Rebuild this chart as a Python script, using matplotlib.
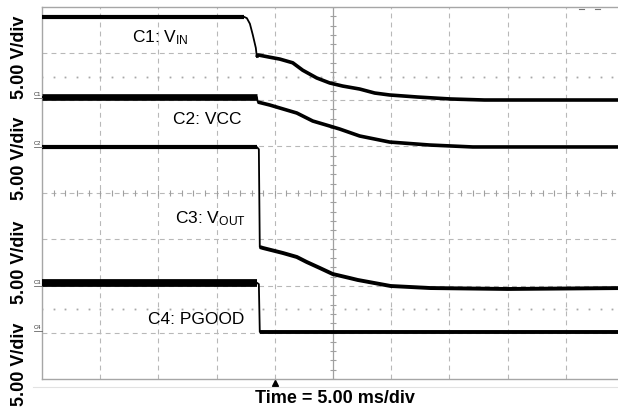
import numpy as np
import matplotlib
matplotlib.use("Agg")
import matplotlib.pyplot as plt
import matplotlib.transforms as mtransforms

plt.rcParams['font.family'] = ['Liberation Sans', 'DejaVu Sans']
plt.rcParams['mathtext.fontset'] = 'custom'
plt.rcParams['mathtext.rm'] = 'Liberation Sans'
plt.rcParams['mathtext.it'] = 'Liberation Sans:italic'
plt.rcParams['mathtext.bf'] = 'Liberation Sans:bold'
plt.rcParams['lines.scale_dashes'] = False

# ---------------- data (time in ms, voltage in V relative to channel ground) ----------
vin_t = [-20.0, -2.66, -2.40, -2.14, -1.89, -1.63, -1.54, -1.46, -0.43, 0.43, 1.54, 2.40,
         3.60, 4.72, 5.83, 7.29, 8.58, 9.86, 12.26, 15.09, 18.0, 30.0]
vin_v = [8.95, 8.95, 8.8, 8.2, 7.0, 5.6, 4.6, 4.85, 4.6, 4.4, 4.0, 3.2,
         2.37, 1.83, 1.5, 1.18, 0.75, 0.54, 0.32, 0.11, 0.0, 0.0]

vcc_t = [-20.0, -1.54, -1.46, -0.43, 0.43, 1.89, 3.26, 4.72, 5.57, 7.29, 9.86, 13.3, 17.0, 30.0]
vcc_v = [5.32, 5.32, 4.78, 4.46, 4.14, 3.6, 2.74, 2.2, 1.88, 1.13, 0.48, 0.16, -0.05, -0.05]

vout_t = [-20.0, -1.54, -1.37, -1.29, -1.03, 0.69, 1.89, 2.74, 3.86, 4.97, 6.43, 7.12,
          9.95, 13.38, 20.0, 30.0]
vout_v = [14.94, 14.94, 14.7, 4.19, 4.09, 3.55, 3.12, 2.58, 1.94, 1.29, 0.86, 0.65,
          0.0, -0.22, -0.32, -0.22]

pg_t = [-20.0, -1.54, -1.37, -1.29, 30.0]
pg_v = [5.35, 5.35, 5.2, 0.05, 0.05]

channels = ["C1", "C2", "C3", "C4"]
channel_labels = ["C1: V$_\\mathrm{IN}$", "C2: VCC", "C3: V$_\\mathrm{OUT}$", "C4: PGOOD"]
volts_per_div = 5.0
time_per_div = 5.0
ylabel_text = "5.00 V/div"
xlabel_text = "Time = 5.00 ms/div"

# ---------------- layout -------------------------------------------------------------
W, H = 618, 411
fig = plt.figure(figsize=(W / 100, H / 100), dpi=100)
fig.patch.set_facecolor('white')
ax_l, ax_r, ax_t, ax_b = 42, 624, 7, 379
ax = fig.add_axes([ax_l / W, (H - ax_b) / H, (ax_r - ax_l) / W, (ax_b - ax_t) / H])
ax.set_xlim(-20, 30)
ax.set_ylim(0, 8)
ax.set_xticks([]); ax.set_yticks([])
for s in ['right']:
    ax.spines[s].set_visible(False)
for s in ['left', 'top', 'bottom']:
    ax.spines[s].set_color('#a6a6a6')
    ax.spines[s].set_linewidth(1.0)

def fx(px):
    return px / W

def fy(py):
    return 1 - py / H

gcol = '#b8b8b8'
# vertical grid
for i in range(1, 10):
    t = -20 + time_per_div * i
    if i == 5:
        ax.axvline(t, color='#a0a0a0', lw=0.9, zorder=1)
        yy = np.arange(0, 8.01, 0.2)
        ax.plot(np.full_like(yy, t), yy, ls='none', marker='_', ms=5, mew=0.8, color='#a0a0a0', zorder=1)
    else:
        ax.axvline(t, color=gcol, lw=0.8, ls=(0, (3.5, 3.0)), zorder=1)
# horizontal grid
for j in range(1, 8):
    if j == 4:
        ax.axhline(j, color=gcol, lw=0.8, ls=(0, (3.5, 3.0)), zorder=1)
        xx = np.arange(-20, 30.01, 1.0)
        ax.plot(xx, np.full_like(xx, j), ls='none', marker='|', ms=4, mew=0.8, color='#a0a0a0', zorder=1)
    else:
        ax.axhline(j, color=gcol, lw=0.8, ls=(0, (3.5, 3.0)), zorder=1)
# dotted reference rows
for yd in (6.5, 1.5):
    xx = np.arange(-20, 30.01, 1.0)
    ax.plot(xx, np.full_like(xx, yd), ls='none', marker='s', ms=1.3, mew=0, color='#a8a8a8', zorder=1)

# ---------------- traces ---------------------------------------------------------------
offsets = {"C1": 6.0, "C2": 5.0, "C3": 2.0, "C4": 1.0}
traces = [
    ("C1", vin_t, vin_v, -2.66, -1.54, 3.0, 2.6),
    ("C2", vcc_t, vcc_v, -1.54, -1.46, 4.8, 2.6),
    ("C3", vout_t, vout_v, -1.54, -1.29, 3.0, 2.8),
    ("C4", pg_t, pg_v, -1.54, -1.29, 5.6, 2.8),
]
for ch, t, v, t_pre, t_post, lw_pre, lw_post in traces:
    t = np.asarray(t); v = np.asarray(v)
    y = offsets[ch] + v / volts_per_div
    ax.plot(t, y, color='black', lw=1.3, solid_joinstyle='round', zorder=3)
    m = t <= t_pre
    ax.plot(t[m], y[m], color='black', lw=lw_pre, solid_capstyle='butt', zorder=3)
    m = t >= t_post
    ax.plot(t[m], y[m], color='black', lw=lw_post, solid_joinstyle='round',
            solid_capstyle='butt', zorder=3)

# ground markers
marker_py = {"C1": 96, "C2": 145, "C3": 284, "C4": 329}
for ch in channels:
    fig.text(fx(41), fy(marker_py[ch]), ch, fontsize=4.2, ha='right', va='baseline', color='#333333')
    fig.add_artist(plt.Line2D([fx(34), fx(42)], [fy(marker_py[ch] + 2)] * 2, color='#666666', lw=0.6))

# channel labels
lab_pos = [(132, 42), (173, 124), (175, 223), (148, 324)]
for (px, py), txt in zip(lab_pos, channel_labels):
    fig.text(fx(px), fy(py), txt, fontsize=12.5, ha='left', va='baseline', color='black')

# y labels
for cy in (57, 158, 262, 364):
    fig.text(fx(19), fy(cy), ylabel_text, rotation=90, ha='center', va='center',
             fontsize=13, fontweight='bold', color='black')

# x label
fig.text(fx(255), fy(402.5), xlabel_text, fontsize=13, fontweight='bold', ha='left',
         va='baseline', color='black')

# trigger marker and bottom line
trans = mtransforms.blended_transform_factory(ax.transData, fig.transFigure)
ax.plot([0], [fy(383)], marker='^', ms=4, color='black', transform=trans, clip_on=False, zorder=5)
fig.add_artist(plt.Line2D([fx(33), 1], [fy(387)] * 2, color='#e2e2e2', lw=0.8))

# top-right small marks
fig.add_artist(plt.Line2D([fx(579), fx(584)], [fy(9)] * 2, color='#777777', lw=0.8))
fig.add_artist(plt.Line2D([fx(595), fx(600)], [fy(9)] * 2, color='#777777', lw=0.8))

fig.savefig('out.png', dpi=100, facecolor='white')
